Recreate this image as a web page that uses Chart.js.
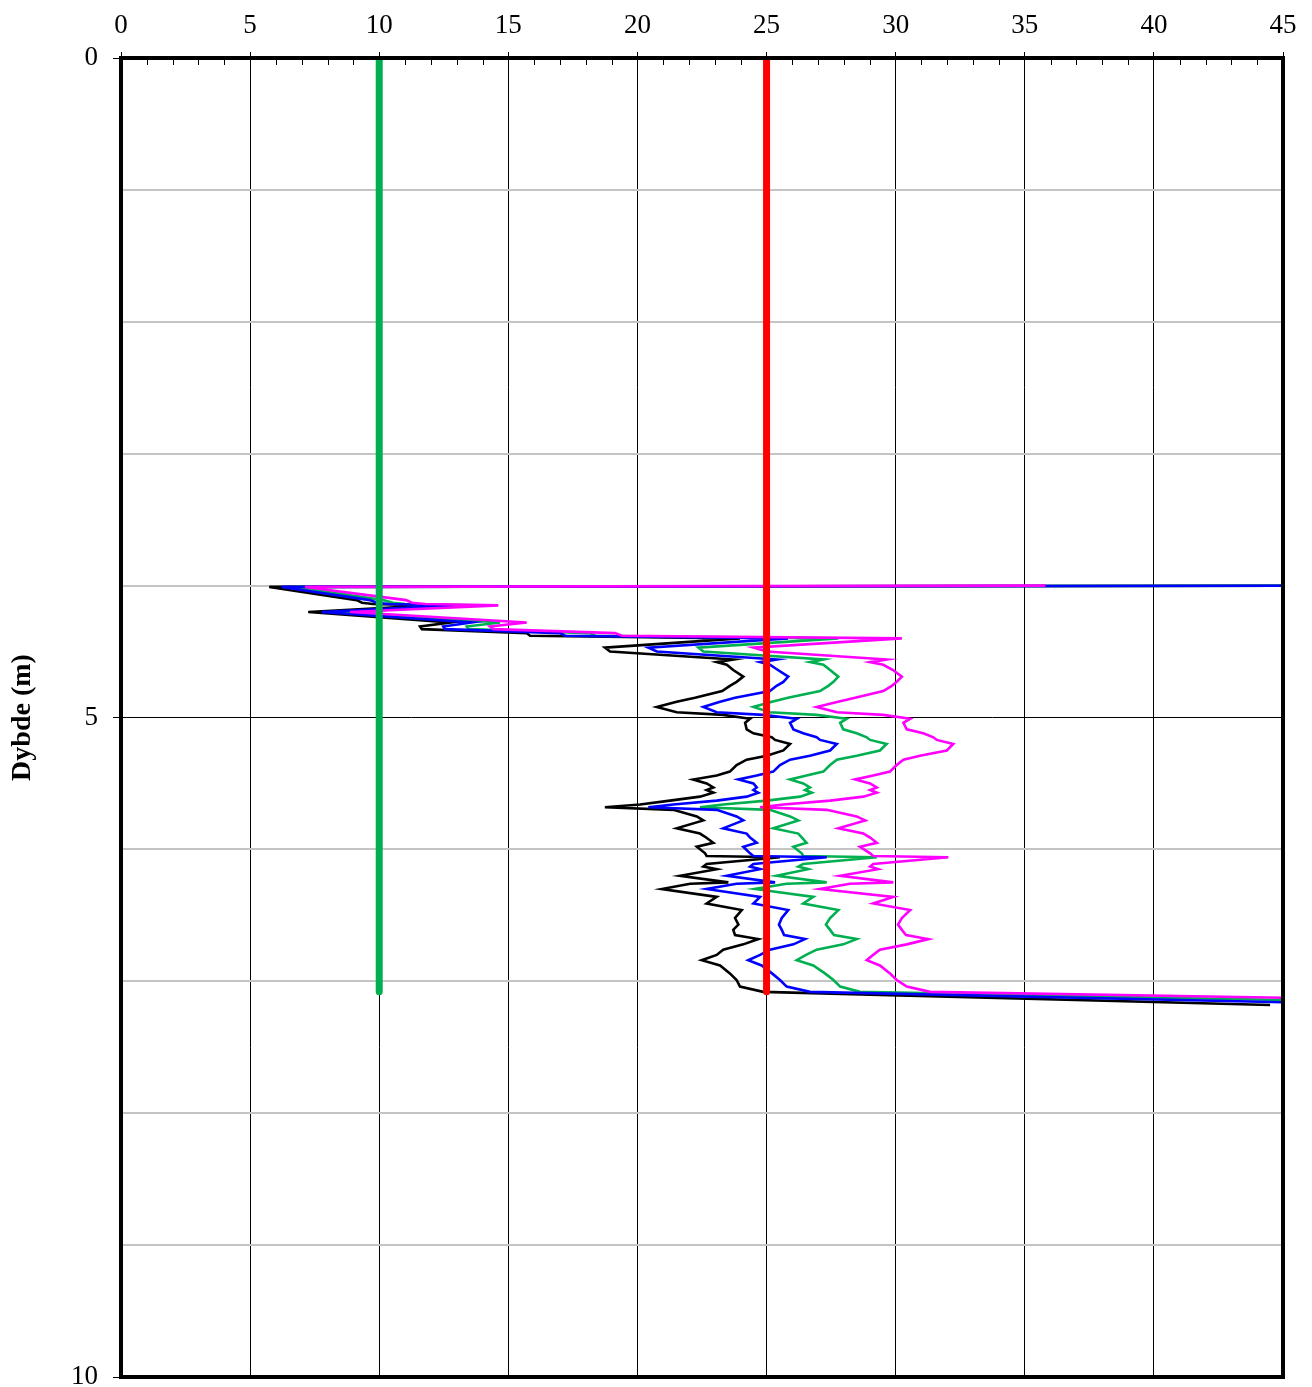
<!DOCTYPE html>
<html>
<head>
<meta charset="utf-8">
<script src="https://cdn.jsdelivr.net/npm/chart.js@4.4.1/dist/chart.umd.min.js"></script>
<style>
  html, body { margin: 0; padding: 0; background: #fff; }
  canvas { display: block; }
</style>
</head>
<body>
<canvas id="chart" width="1312" height="1387"></canvas>
<script>
// Depth (m) shared by the four profiles
var depth = [4.00, 4.01, 4.11, 4.13, 4.14, 4.15, 4.20, 4.28, 4.31, 4.33, 4.36, 4.38, 4.40, 4.47, 4.50,
  4.56, 4.58, 4.60, 4.64, 4.69, 4.73, 4.76, 4.80, 4.85, 4.88, 4.92, 4.96, 4.98, 5.01, 5.04, 5.09,
  5.12, 5.15, 5.17, 5.20, 5.25, 5.29, 5.32, 5.36, 5.41, 5.44, 5.47, 5.50, 5.53, 5.55, 5.57, 5.60,
  5.63, 5.66, 5.68, 5.70, 5.75, 5.78, 5.84, 5.88, 5.91, 5.95, 5.98, 6.03, 6.05, 6.06, 6.11, 6.13,
  6.15, 6.20, 6.25, 6.26, 6.30, 6.36, 6.41, 6.46, 6.52, 6.57, 6.61, 6.65, 6.68, 6.72, 6.76, 6.80,
  6.84, 6.88, 6.94, 6.99, 7.04, 7.08, 7.18];

var blackValues = [50, 5.74, 9.13, 9.33, 9.76, 12.03, 7.25, 12.74, 11.58, 11.65, 15.71, 15.84, 23.97, 18.74, 18.94,
  23.71, 23.07, 23.46, 23.71, 24.10, 23.84, 23.58, 23.28, 22.23, 21.52, 20.75, 21.52, 23.32, 24.36, 24.17, 24.23,
  24.49, 25.20, 25.33, 25.91, 25.65, 25.01, 24.23, 23.84, 23.58, 23.07, 22.16, 22.68, 22.94, 22.68, 22.94, 22.42,
  21.26, 20.10, 18.74, 21.39, 22.30, 22.55, 21.52, 22.42, 22.66, 22.94, 22.30, 22.62, 22.68, 25.52, 22.68, 22.55,
  23.07, 21.65, 23.52, 22.04, 20.94, 23.07, 22.68, 24.04, 23.78, 23.91, 23.71, 23.78, 24.68, 24.10, 23.32, 23.07,
  22.49, 23.20, 23.58, 23.84, 23.97, 24.87, 44.5];

var blueValues = [50, 6.22, 9.64, 9.91, 10.38, 12.87, 7.77, 13.58, 12.48, 12.55, 17.00, 17.20, 25.83, 20.42, 20.75,
  25.39, 24.75, 25.13, 25.44, 25.84, 25.65, 25.39, 25.13, 23.78, 23.20, 22.55, 23.07, 24.87, 26.17, 25.91, 26.04,
  26.42, 26.94, 27.07, 27.72, 27.46, 26.68, 25.91, 25.52, 25.26, 24.62, 23.91, 24.49, 24.62, 24.49, 24.68, 24.23,
  23.07, 21.39, 20.42, 23.07, 23.84, 24.10, 23.32, 24.23, 24.36, 24.62, 24.10, 24.36, 24.49, 27.33, 24.49, 24.36,
  24.75, 23.46, 25.33, 23.84, 22.68, 24.75, 24.49, 25.84, 25.59, 25.48, 25.59, 25.68, 26.49, 26.04, 25.13, 24.75,
  24.29, 24.81, 25.21, 25.52, 25.78, 26.68, 50];

var greenValues = [50, 6.74, 10.15, 10.53, 11.00, 13.90, 8.42, 14.68, 13.39, 13.45, 18.16, 18.36, 27.78, 22.36, 22.55,
  27.20, 26.68, 27.20, 27.46, 27.78, 27.59, 27.39, 27.07, 25.83, 25.21, 24.49, 25.13, 26.94, 28.10, 27.85, 27.97,
  28.49, 28.88, 29.01, 29.65, 29.39, 28.49, 27.72, 27.46, 27.20, 26.55, 25.91, 26.42, 26.68, 26.49, 26.75, 26.30,
  25.01, 23.32, 22.42, 25.13, 25.91, 26.23, 25.26, 26.23, 26.37, 26.55, 26.04, 26.36, 26.42, 29.27, 26.42, 26.23,
  26.61, 25.39, 27.33, 25.78, 24.55, 26.81, 26.42, 27.78, 27.46, 27.30, 27.46, 27.61, 28.49, 27.97, 26.94, 26.53,
  26.17, 26.81, 27.26, 27.59, 27.85, 28.62, 54.9];

var magentaValues = [35.8, 7.13, 11.04, 11.27, 11.77, 14.61, 8.87, 15.71, 14.29, 14.42, 19.13, 19.40, 30.24, 24.49, 25.01,
  29.65, 29.01, 29.52, 29.90, 30.24, 30.04, 29.85, 29.52, 28.43, 27.77, 26.94, 27.72, 29.52, 30.56, 30.30, 30.43,
  31.07, 31.46, 31.59, 32.23, 31.98, 30.94, 30.30, 30.04, 29.78, 29.13, 28.43, 29.01, 29.27, 29.01, 29.27, 28.75,
  27.46, 25.65, 24.75, 27.33, 28.49, 28.82, 27.78, 28.75, 29.01, 29.27, 28.62, 29.01, 29.13, 32.04, 29.13, 29.01,
  29.32, 27.85, 29.91, 28.23, 27.07, 29.91, 29.13, 30.56, 30.24, 30.09, 30.24, 30.40, 31.26, 30.43, 29.39, 29.12,
  28.88, 29.39, 29.78, 30.04, 30.43, 31.33, 61.9];

// Vertical limit lines
var limitDepth = [0, 7.08];
var lowerLimit = 10;
var upperLimit = 25;

// Axis labels shown on the depth axis
var depthLabels = [0, 5, 10];

function profile(values) {
  return depth.map(function (d, i) { return { x: values[i], y: d }; });
}
function limit(v) {
  return limitDepth.map(function (d) { return { x: v, y: d }; });
}

Chart.defaults.font.family = "'Liberation Serif', 'Times New Roman', serif";
Chart.defaults.font.size = 27;
Chart.defaults.color = '#000';

// Thick frame + small inward minor ticks on the top axis
var framePlugin = {
  id: 'frame',
  afterDatasetsDraw: function (chart) {
    var ctx = chart.ctx, a = chart.chartArea, x = chart.scales.x;
    ctx.save();
    ctx.strokeStyle = '#000';
    ctx.lineWidth = 1;
    ctx.beginPath();
    for (var v = 1; v < 45; v++) {
      if (v % 5 === 0) continue;
      var px = Math.round(x.getPixelForValue(v)) + 0.5;
      ctx.moveTo(px, a.top);
      ctx.lineTo(px, a.top + 7);
    }
    ctx.stroke();
    ctx.lineWidth = 4;
    ctx.strokeRect(a.left, a.top, a.right - a.left, a.bottom - a.top);
    ctx.restore();
  }
};

var line = { showLine: true, pointRadius: 0, borderWidth: 2.6, fill: false, tension: 0 };

var ctx = document.getElementById('chart').getContext('2d');
var myChart = new Chart(ctx, {
  type: 'scatter',
  data: {
    datasets: [
      { data: limit(lowerLimit), showLine: true, pointRadius: 0, borderWidth: 7, borderColor: '#00B050', borderCapStyle: 'round' },
      { data: limit(upperLimit), showLine: true, pointRadius: 0, borderWidth: 7, borderColor: '#FF0000', borderCapStyle: 'round' },
      Object.assign({ data: profile(magentaValues), borderColor: '#FF00FF' }, line),
      Object.assign({ data: profile(blueValues), borderColor: '#0000FF' }, line),
      Object.assign({ data: profile(greenValues), borderColor: '#00B050' }, line),
      Object.assign({ data: profile(blackValues), borderColor: '#000000' }, line)
    ]
  },
  options: {
    responsive: false,
    animation: false,
    layout: { padding: { top: 0, left: 0, right: 29, bottom: 10 } },
    plugins: { legend: { display: false }, tooltip: { enabled: false } },
    scales: {
      x: {
        type: 'linear',
        position: 'top',
        min: 0,
        max: 45,
        ticks: { stepSize: 5, font: { size: 27 }, padding: 10, maxRotation: 0 },
        grid: { color: '#000', lineWidth: 1, tickLength: 6, tickColor: '#000' },
        border: { display: false },
        afterFit: function (scale) { scale.height = 58; scale.paddingLeft = 0; scale.paddingRight = 0; }
      },
      y: {
        type: 'linear',
        reverse: true,
        min: 0,
        max: 10,
        ticks: {
          stepSize: 1,
          font: { size: 27 },
          padding: 15,
          autoSkip: false,
          callback: function (v) { return depthLabels.indexOf(v) >= 0 ? v : ''; }
        },
        grid: {
          color: function (c) { return c.tick && c.tick.value % 5 === 0 ? '#000' : '#c4c4c4'; },
          lineWidth: function (c) { return c.tick && c.tick.value % 5 === 0 ? 1 : 2; },
          tickLength: 8,
          tickColor: function (c) { return c.tick && c.tick.value % 5 === 0 ? '#000' : 'rgba(0,0,0,0)'; }
        },
        border: { display: false },
        title: {
          display: true,
          text: 'Dybde (m)',
          font: { size: 28, weight: 'bold' },
          padding: { top: 6, bottom: 0 }
        },
        afterFit: function (scale) { scale.width = 121; scale.paddingTop = 0; scale.paddingBottom = 0; }
      }
    }
  },
  plugins: [framePlugin]
});
</script>
</body>
</html>
